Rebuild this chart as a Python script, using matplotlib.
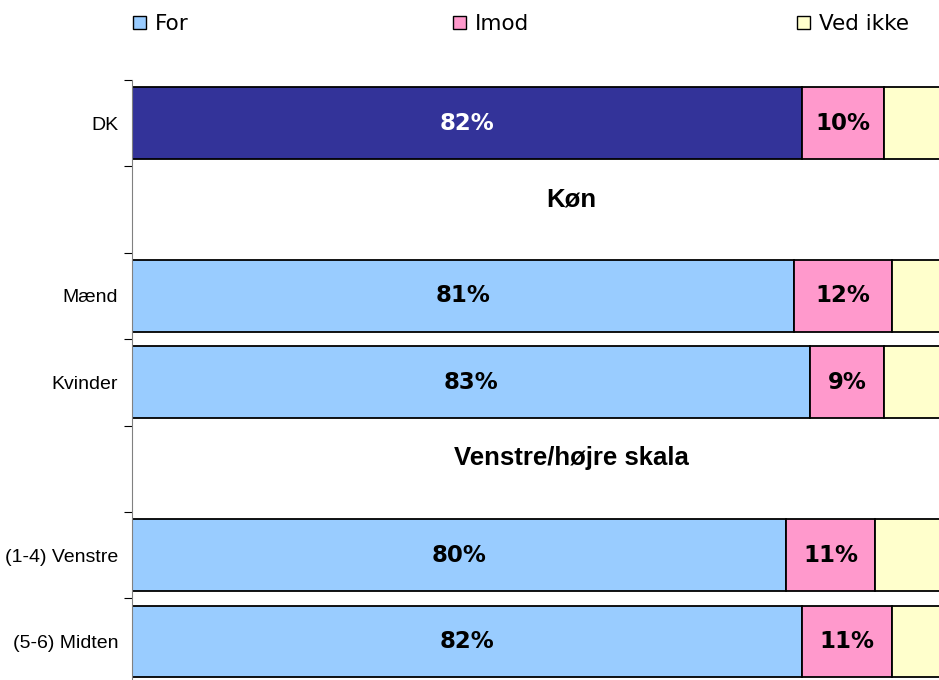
import numpy as np
import matplotlib.pyplot as plt
from matplotlib.patches import Patch

# Data
rows = ['DK', '', 'Mænd', 'Kvinder', '', '(1-4) Venstre', '(5-6) Midten']
headers = {1: 'Køn', 4: 'Venstre/højre skala'}
bar_rows = [0, 2, 3, 5, 6]
for_vals = [82, 81, 83, 80, 82]
imod_vals = [10, 12, 9, 11, 11]
vedikke_vals = [8, 7, 8, 9, 7]
legend_labels = ['For', 'Imod', 'Ved ikke']

c_dk = '#333399'
c_for = '#99CCFF'
c_imod = '#FF99CC'
c_ved = '#FFFFCC'

fig = plt.figure(figsize=(9.39, 6.80), dpi=100)
# axes runs off the right and bottom edge, like the original crop
ax = fig.add_axes([132/939, 1 - 684.7/680, 817/939, 604.7/680])

h = 0.83
y = np.array(bar_rows)
f = np.array(for_vals)
im = np.array(imod_vals)
v = np.array(vedikke_vals)
colors_for = [c_dk if r == 0 else c_for for r in bar_rows]

ax.barh(y, f, height=h, color=colors_for, edgecolor='black', linewidth=1.3)
ax.barh(y, im, left=f, height=h, color=c_imod, edgecolor='black', linewidth=1.3)
ax.barh(y, v, left=f + im, height=h, color=c_ved, edgecolor='black', linewidth=1.3)

for yi, a, b in zip(y, f, im):
    ax.text(a / 2, yi, f'{a}%', ha='center', va='center', fontsize=16.5,
            fontweight='bold', family='DejaVu Sans',
            color='white' if yi == 0 else 'black')
    ax.text(a + b / 2, yi, f'{b}%', ha='center', va='center', fontsize=16.5,
            fontweight='bold', family='DejaVu Sans', color='black')

for r, t in headers.items():
    ax.text(53.8, r - 0.12, t, ha='center', va='center', fontsize=18.5,
            fontweight='bold', family='Liberation Sans')

ax.set_xlim(0, 100)
ax.set_ylim(6.5, -0.5)

# tick marks on row boundaries, labels on row centres
ax.set_yticks(np.arange(-0.5, 7, 1))
ax.set_yticklabels([])
ax.tick_params(axis='y', which='major', length=6, color='black', direction='out')
ax.set_yticks(np.arange(len(rows)), minor=True)
ax.set_yticklabels(rows, minor=True, fontsize=14, family='Liberation Sans')
ax.tick_params(axis='y', which='minor', length=0, pad=10)

ax.set_xticks([])
for s in ['top', 'right', 'bottom']:
    ax.spines[s].set_visible(False)
ax.spines['left'].set_color('#808080')

# one legend per entry, placed like the original
leg_x = [133, 453, 797]
leg_colors = [c_for, c_imod, c_ved]
for lx, lab, col in zip(leg_x, legend_labels, leg_colors):
    fig.legend(handles=[Patch(facecolor=col, edgecolor='black', label=lab)],
               loc='center left', bbox_to_anchor=(lx/939, 1 - 24/680),
               frameon=False, fontsize=15.5, handlelength=0.6, handleheight=0.6,
               handletextpad=0.4, borderaxespad=0, borderpad=0)

fig.savefig('out.png', dpi=100)
